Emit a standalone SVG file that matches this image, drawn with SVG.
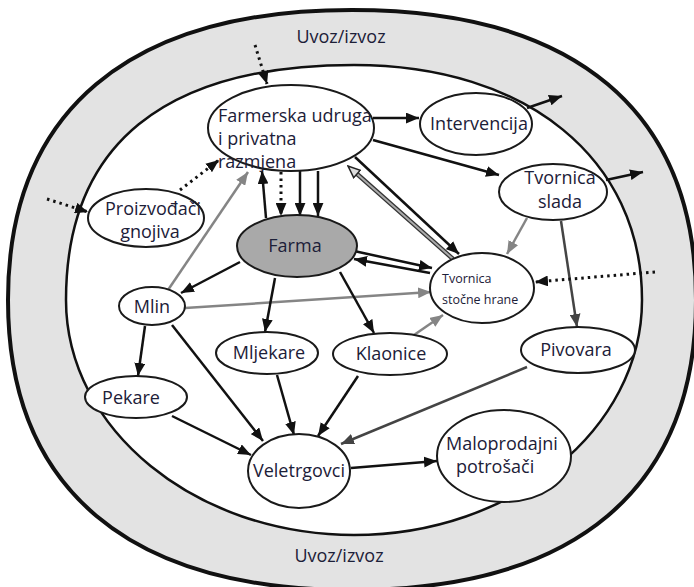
<svg xmlns="http://www.w3.org/2000/svg" width="694" height="587" viewBox="0 0 694 587">
<style>
  .node { fill: #ffffff; stroke: #1a1a1a; stroke-width: 2; }
  .farma { fill: #a9a9a9; }
  .t { font-family: "Open Sans", "Liberation Sans", sans-serif; font-size: 18px; fill: #1c2038; }
  .tm { text-anchor: middle; }
  .ts { font-size: 12.5px; }
  .c { fill: none; stroke: #111; stroke-width: 2.5; }
  .g { stroke: #858585; }
  .dg { stroke: #444; }
  .d { stroke-dasharray: 2.5 4; stroke-width: 3; }
</style>
<defs>
  <marker id="ab" viewBox="0 0 12 10" refX="12" refY="5" markerWidth="13" markerHeight="11" markerUnits="userSpaceOnUse" orient="auto">
    <path d="M0,0 L12,5 L0,10 z" fill="#111"/>
  </marker>
  <marker id="ag" viewBox="0 0 12 10" refX="12" refY="5" markerWidth="13" markerHeight="11" markerUnits="userSpaceOnUse" orient="auto">
    <path d="M0,0 L12,5 L0,10 z" fill="#858585"/>
  </marker>
  <marker id="ad" viewBox="0 0 12 10" refX="12" refY="5" markerWidth="13" markerHeight="11" markerUnits="userSpaceOnUse" orient="auto">
    <path d="M0,0 L12,5 L0,10 z" fill="#444"/>
  </marker>
  <marker id="ah" viewBox="0 0 14 12" refX="13" refY="6" markerWidth="14" markerHeight="12" markerUnits="userSpaceOnUse" orient="auto">
    <path d="M1,1 L13,6 L1,11 z" fill="#ddd" stroke="#222" stroke-width="1.5"/>
  </marker>
</defs>

<g id="ring">
  <path d="M352,10 C575.6,10 696,111.5 696,300 C696,488.5 575.6,590 352,590 C128.4,590 8,488.5 8,300 C8,111.5 128.4,10 352,10 Z" fill="#e3e3e3" stroke="#111" stroke-width="4"/>
  <path d="M354,65 C526.8,65 642,159 642,300 C642,429.3 512.4,535 354,535 C195.6,535 66,429.3 66,300 C66,144.9 164,65 354,65 Z" fill="#ffffff" stroke="#111" stroke-width="2.5"/>
  <text class="t tm" x="341" y="43">Uvoz/izvoz</text>
  <text class="t tm" x="339" y="562">Uvoz/izvoz</text>
</g>

<g id="connectors">
  <line class="c d" x1="255" y1="45" x2="267" y2="84" marker-end="url(#ab)"/>
  <line class="c" x1="373" y1="118" x2="419" y2="118" marker-end="url(#ab)"/>
  <line class="c" x1="527" y1="108" x2="562" y2="96" marker-end="url(#ab)"/>
  <line class="c" x1="373" y1="140" x2="499" y2="175" marker-end="url(#ab)"/>
  <line class="c" x1="606" y1="180" x2="643" y2="172" marker-end="url(#ab)"/>
  <line class="c d" x1="180" y1="190" x2="219" y2="160" marker-end="url(#ab)"/>
  <line class="c d" x1="47" y1="199" x2="88" y2="212" marker-end="url(#ab)"/>
  <line class="c g" x1="168" y1="290" x2="248" y2="172" marker-end="url(#ag)"/>
  <line class="c" x1="266" y1="218" x2="262" y2="171" marker-end="url(#ab)"/>
  <line class="c d" x1="281" y1="172" x2="281" y2="216" marker-end="url(#ab)"/>
  <line class="c" x1="300" y1="171" x2="300" y2="216" marker-end="url(#ab)"/>
  <line class="c" x1="318" y1="171" x2="318" y2="216" marker-end="url(#ab)"/>
  <line class="c" x1="355" y1="157" x2="459" y2="254" marker-end="url(#ab)"/>
  <line fill="none" stroke="#333" stroke-width="4.5" x1="453" y1="259" x2="356" y2="173"/>
  <line fill="none" stroke="#aaa" stroke-width="2" x1="453" y1="259" x2="348" y2="166" marker-end="url(#ah)"/>
  <line class="c" x1="354" y1="251" x2="432" y2="268" marker-end="url(#ab)"/>
  <line class="c" x1="430" y1="273" x2="354" y2="259" marker-end="url(#ab)"/>
  <line class="c" x1="240" y1="262" x2="181" y2="293" marker-end="url(#ab)"/>
  <line class="c g" x1="185" y1="308" x2="431" y2="292" marker-end="url(#ag)"/>
  <line class="c" x1="275" y1="278" x2="265" y2="332" marker-end="url(#ab)"/>
  <line class="c" x1="340" y1="272" x2="374" y2="333" marker-end="url(#ab)"/>
  <line class="c g" x1="414" y1="335" x2="443" y2="315" marker-end="url(#ag)"/>
  <line class="c g" x1="527" y1="218" x2="507" y2="254" marker-end="url(#ag)"/>
  <line class="c dg" x1="561" y1="221" x2="577" y2="327" marker-end="url(#ad)"/>
  <line class="c d" x1="655" y1="272" x2="535" y2="282" marker-end="url(#ab)"/>
  <line class="c" x1="145" y1="326" x2="138" y2="376" marker-end="url(#ab)"/>
  <line class="c" x1="172" y1="325" x2="263" y2="441" marker-end="url(#ab)"/>
  <line class="c" x1="172" y1="416" x2="251" y2="455" marker-end="url(#ab)"/>
  <line class="c" x1="277" y1="375" x2="294" y2="435" marker-end="url(#ab)"/>
  <line class="c" x1="358" y1="376" x2="318" y2="436" marker-end="url(#ab)"/>
  <line class="c dg" x1="527" y1="367" x2="341" y2="444" marker-end="url(#ad)"/>
  <line class="c" x1="351" y1="468" x2="437" y2="461" marker-end="url(#ab)"/>
</g>

<g id="farmerska">
  <ellipse class="node" cx="291" cy="128" rx="83" ry="43"/>
  <text class="t" x="218" y="122">Farmerska udruga</text>
  <text class="t" x="218" y="145">i privatna</text>
  <text class="t" x="218" y="168">razmjena</text>
</g>
<g id="intervencija">
  <ellipse class="node" cx="476" cy="124" rx="56" ry="31"/>
  <text class="t tm" x="479" y="130">Intervencija</text>
</g>
<g id="tvornica-slada">
  <ellipse class="node" cx="553" cy="192" rx="54" ry="28"/>
  <text class="t tm" x="560" y="184">Tvornica</text>
  <text class="t tm" x="560" y="208">slada</text>
</g>
<g id="proizvodjaci">
  <ellipse class="node" cx="146" cy="218" rx="58" ry="29"/>
  <text class="t tm" x="153" y="215">Proizvođači</text>
  <text class="t tm" x="150" y="238">gnojiva</text>
</g>
<g id="farma">
  <ellipse class="node farma" cx="297" cy="246" rx="60" ry="31"/>
  <text class="t tm" x="295" y="252">Farma</text>
</g>
<g id="mlin">
  <ellipse class="node" cx="152" cy="306" rx="33" ry="19"/>
  <text class="t tm" x="152" y="313">Mlin</text>
</g>
<g id="mljekare">
  <ellipse class="node" cx="267" cy="353" rx="51" ry="21"/>
  <text class="t tm" x="269" y="359">Mljekare</text>
</g>
<g id="klaonice">
  <ellipse class="node" cx="390" cy="354" rx="57" ry="21"/>
  <text class="t tm" x="391" y="360">Klaonice</text>
</g>
<g id="tvornica-stocne-hrane">
  <ellipse class="node" cx="482" cy="288" rx="52" ry="35"/>
  <text class="t ts" x="442" y="283">Tvornica</text>
  <text class="t ts" x="442" y="304">stočne hrane</text>
</g>
<g id="pivovara">
  <ellipse class="node" cx="578" cy="350" rx="57" ry="23"/>
  <text class="t tm" x="576" y="356">Pivovara</text>
</g>
<g id="pekare">
  <ellipse class="node" cx="136" cy="397" rx="51" ry="21"/>
  <text class="t tm" x="131" y="404">Pekare</text>
</g>
<g id="veletrgovci">
  <ellipse class="node" cx="299" cy="471" rx="51" ry="37"/>
  <text class="t tm" x="299" y="477">Veletrgovci</text>
</g>
<g id="maloprodajni">
  <ellipse class="node" cx="504" cy="456" rx="67" ry="46"/>
  <text class="t" x="446" y="450">Maloprodajni</text>
  <text class="t" x="456" y="473">potrošači</text>
</g>
</svg>
